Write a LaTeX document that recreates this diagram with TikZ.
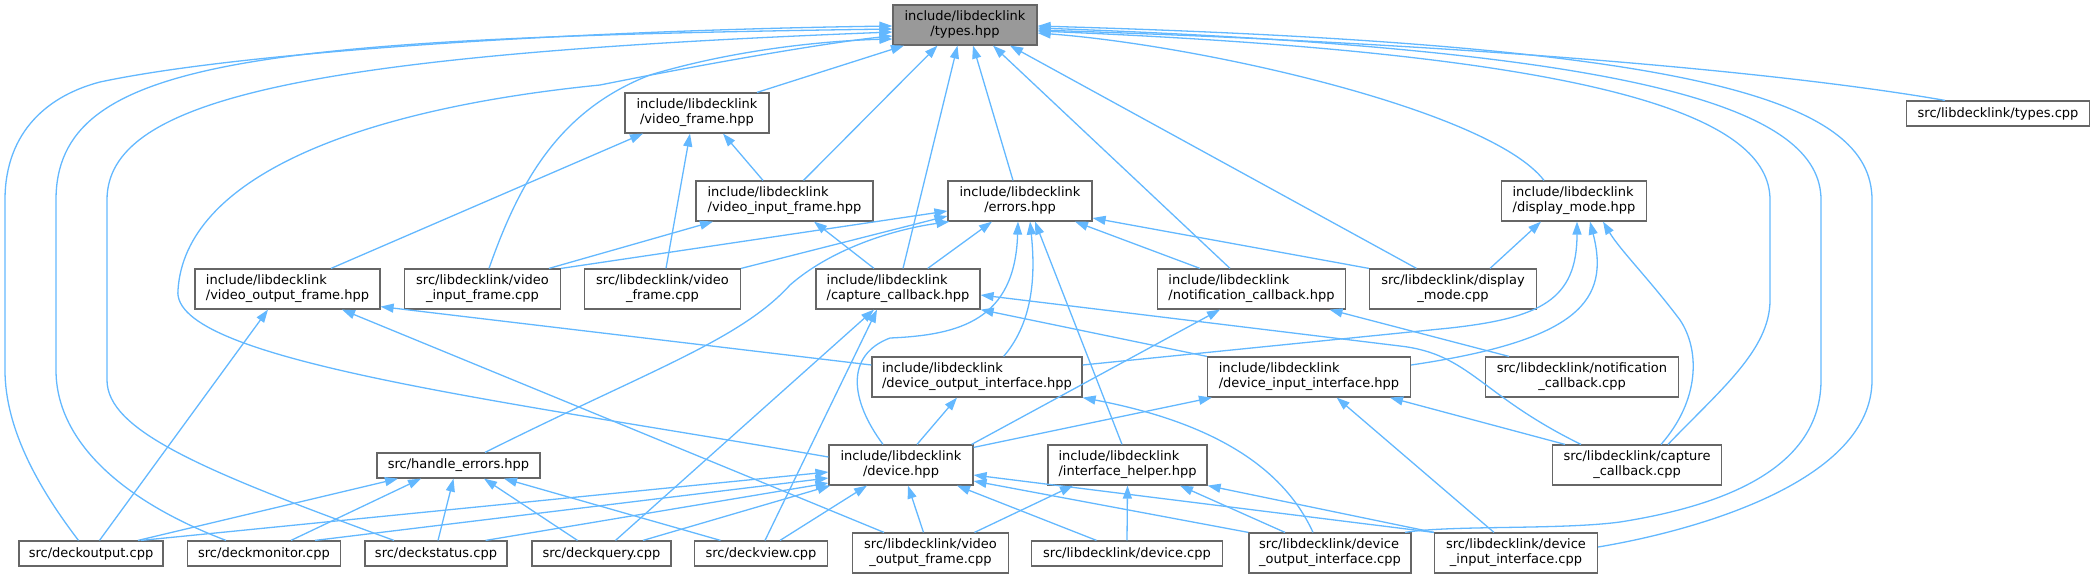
\documentclass[tikz,border=0pt]{standalone}
\usepackage{fontspec}
\setmainfont{DejaVu Sans}
\usetikzlibrary{arrows.meta}
\definecolor{edgeblue}{HTML}{63B8FF}
\definecolor{nodegray}{HTML}{666666}
\definecolor{typesgray}{HTML}{999999}
\newcommand\lab[2]{\begin{tabular}{@{}l@{}}#1\\\multicolumn{1}{@{}c@{}}{#2}\end{tabular}}
\tikzset{
  box/.style={draw=nodegray, line width=1.2pt, fill=white, inner sep=0pt, font=\fontsize{13}{15}\selectfont},
  two/.style={box, minimum height=40pt},
  one/.style={box, minimum height=25pt},
  edge/.style={draw=edgeblue, line width=1.3pt, -{Triangle[length=13pt,width=9pt]}}
}
\begin{document}
\begin{tikzpicture}[x=1pt,y=-1pt]
\useasboundingbox (0,0) rectangle (2095,579);
% nodes
\node[two,minimum width=144pt,fill=typesgray] (types) at (965,25) {\lab{include/libdecklink}{/types.hpp}};
\node[two,minimum width=144pt] (vframe) at (697,113) {\lab{include/libdecklink}{/video\_frame.hpp}};
\node[one,minimum width=183pt] (typescpp) at (1998,113.5) {src/libdecklink/types.cpp};
\node[two,minimum width=177pt] (vifh) at (784.5,201) {\lab{include/libdecklink}{/video\_input\_frame.hpp}};
\node[two,minimum width=144pt] (errors) at (1020,201) {\lab{include/libdecklink}{/errors.hpp}};
\node[two,minimum width=145pt] (dmh) at (1574,201) {\lab{include/libdecklink}{/display\_mode.hpp}};
\node[two,minimum width=185pt] (vofh) at (287.5,289) {\lab{include/libdecklink}{/video\_output\_frame.hpp}};
\node[two,minimum width=156pt] (vifc) at (482.5,289) {\lab{src/libdecklink/video}{\_input\_frame.cpp}};
\node[two,minimum width=156pt] (vfc) at (662.5,289) {\lab{src/libdecklink/video}{\_frame.cpp}};
\node[two,minimum width=164pt] (cch) at (898,289) {\lab{include/libdecklink}{/capture\_callback.hpp}};
\node[two,minimum width=188pt] (nch) at (1251.5,289) {\lab{include/libdecklink}{/notification\_callback.hpp}};
\node[two,minimum width=167pt] (dmc) at (1453,289) {\lab{src/libdecklink/display}{\_mode.cpp}};
\node[two,minimum width=210pt] (doih) at (977,377) {\lab{include/libdecklink}{/device\_output\_interface.hpp}};
\node[two,minimum width=203pt] (diih) at (1309,377) {\lab{include/libdecklink}{/device\_input\_interface.hpp}};
\node[two,minimum width=193pt] (ncc) at (1582,377) {\lab{src/libdecklink/notification}{\_callback.cpp}};
\node[one,minimum width=163pt] (he) at (458.5,465.5) {src/handle\_errors.hpp};
\node[two,minimum width=144pt] (dev) at (901,465) {\lab{include/libdecklink}{/device.hpp}};
\node[two,minimum width=159pt] (ih) at (1127.5,465) {\lab{include/libdecklink}{/interface\_helper.hpp}};
\node[two,minimum width=169pt] (capc) at (1637,465) {\lab{src/libdecklink/capture}{\_callback.cpp}};
\node[one,minimum width=144pt] (dout) at (91,553.5) {src/deckoutput.cpp};
\node[one,minimum width=153pt] (dmon) at (264,553.5) {src/deckmonitor.cpp};
\node[one,minimum width=142pt] (dstat) at (436,553.5) {src/deckstatus.cpp};
\node[one,minimum width=139pt] (dquery) at (601.5,553.5) {src/deckquery.cpp};
\node[one,minimum width=133pt] (dview) at (761,553.5) {src/deckview.cpp};
\node[two,minimum width=156pt] (vofc) at (930.5,553) {\lab{src/libdecklink/video}{\_output\_frame.cpp}};
\node[one,minimum width=191pt] (devc) at (1127,553.5) {src/libdecklink/device.cpp};
\node[two,minimum width=162pt] (doic) at (1330,553) {\lab{src/libdecklink/device}{\_output\_interface.cpp}};
\node[two,minimum width=163pt] (diic) at (1516,553) {\lab{src/libdecklink/device}{\_input\_interface.cpp}};
% edges into types
\draw[edge] ([xshift=60pt]vframe.north) -- ([xshift=-61pt]types.south);
\draw[edge] ([xshift=19pt]vifh.north) -- ([xshift=-27.5pt]types.south);
\draw[edge] ([xshift=5pt]cch.north) -- ([xshift=-7.5pt]types.south);
\draw[edge] ([xshift=-7pt]errors.north) -- ([xshift=8pt]types.south);
\draw[edge] ([xshift=-21.5pt]nch.north) -- ([xshift=28pt]types.south);
\draw[edge] ([xshift=-36.5pt]dmc.north) -- ([xshift=45pt]types.south);
\draw[edge] ([xshift=-30pt]dmh.north) .. controls (1490,110) and (1200,45) .. ([yshift=-8pt]types.east);
\draw[edge] ([xshift=-53pt]typescpp.north) .. controls (1800,75) and (1500,45) .. ([yshift=-5pt]types.east);
\draw[edge] ([xshift=31pt]capc.north) .. controls (1720,390) and (1770,350) .. (1770,300) -- (1770,200) .. controls (1770,120) and (1620,55) .. ([yshift=-6pt]types.east);
\draw[edge] ([xshift=75pt]doic.north) .. controls (1450,525) and (1560,530) .. (1620,522) .. controls (1760,500) and (1821,450) .. (1821,380) -- (1821,200) .. controls (1821,110) and (1650,50) .. ([yshift=-3pt]types.east);
\draw[edge] ([yshift=6pt]diic.east) .. controls (1700,530) and (1872,480) .. (1872,380) -- (1872,200) .. controls (1872,100) and (1700,45) .. ([yshift=-1pt]types.east);
\draw[edge] ([xshift=-12.5pt]dout.north) .. controls (40,490) and (5,430) .. (5,370) -- (5,200) .. controls (5,130) and (50,95) .. (100,82) .. controls (250,50) and (600,30) .. ([yshift=-1pt]types.west);
\draw[edge] ([xshift=-38pt]dmon.north) .. controls (120,500) and (56,440) .. (56,370) -- (56,200) .. controls (56,60) and (250,38) .. ([yshift=-4pt]types.west);
\draw[edge] ([xshift=-42pt]dstat.north) .. controls (200,470) and (107,430) .. (107,380) -- (107,200) .. controls (107,100) and (300,55) .. ([yshift=-7pt]types.west);
\draw[edge] ([yshift=8pt]dev.west) .. controls (500,400) and (170,360) .. (178,290) .. controls (185,180) and (350,110) .. (600,85) .. controls (750,55) and (850,40) .. ([yshift=-11pt]types.west);
\draw[edge] ([xshift=6.5pt]vifc.north) .. controls (520,180) and (560,110) .. (650,75) .. controls (750,45) and (850,40) .. ([yshift=-14pt]types.west);
% into video_frame.hpp
\draw[edge] ([xshift=43.5pt]vofh.north) -- ([xshift=-54pt]vframe.south);
\draw[edge] ([xshift=3.5pt]vfc.north) -- ([xshift=-7pt]vframe.south);
\draw[edge] ([xshift=-21.5pt]vifh.north) -- ([xshift=26pt]vframe.south);
% into video_input_frame.hpp
\draw[edge] ([xshift=66.5pt]vifc.north) -- ([xshift=-71.5pt]vifh.south);
\draw[edge] ([xshift=-24pt]cch.north) -- ([xshift=29.5pt]vifh.south);
% into errors.hpp
\draw[edge] (vifc.north east) -- ([yshift=-10pt]errors.west);
\draw[edge] (vfc.north east) -- ([yshift=-15pt]errors.west);
\draw[edge] ([xshift=26.5pt]he.north) .. controls (650,370) and (740,340) .. (790,285) .. controls (830,250) and (890,230) .. ([xshift=2pt]errors.south west);
\draw[edge] ([xshift=29.7pt]cch.north) -- ([xshift=-28pt]errors.south);
\draw[edge] ([xshift=-18pt]dev.north) .. controls (850,400) and (845,355) .. (890,338) .. controls (960,335) and (1015,320) .. ([xshift=-2pt]errors.south);
\draw[edge] ([xshift=26.6pt]doih.north) .. controls (1035,320) and (1035,270) .. ([xshift=10pt]errors.south);
\draw[edge] ([xshift=-5.5pt]ih.north) -- ([xshift=15pt]errors.south);
\draw[edge] ([xshift=-51.5pt]nch.north) -- ([xshift=55pt]errors.south);
\draw[edge] (dmc.north west) -- ([yshift=-17pt]errors.east);
% into capture_callback.hpp
\draw[edge] ([xshift=14pt]dquery.north) -- ([xshift=-24pt]cch.south);
\draw[edge] ([xshift=4pt]dview.north) -- ([xshift=-21pt]cch.south);
\draw[edge] (diih.north west) -- (cch.south east);
\draw[edge] ([xshift=-56pt]capc.north) .. controls (1480,395) and (1470,354) .. (1400,346) -- ([yshift=-6pt]cch.east);
% into display_mode.hpp
\draw[edge] ([xshift=37pt]dmc.north) -- ([xshift=-33pt]dmh.south);
\draw[edge] ([yshift=12pt]doih.east) -- (1450,328) .. controls (1540,318) and (1577,300) .. ([xshift=3pt]dmh.south);
\draw[edge] ([yshift=12pt]diih.east) .. controls (1580,340) and (1610,300) .. ([xshift=16pt]dmh.south);
\draw[edge] ([xshift=24pt]capc.north) .. controls (1700,400) and (1700,350) .. (1680,320) .. controls (1650,280) and (1620,250) .. ([xshift=29pt]dmh.south);
% into notification_callback.hpp
\draw[edge] ([xshift=-2pt]dev.north east) -- ([xshift=-31.5pt]nch.south);
\draw[edge] ([xshift=-73pt]ncc.north) -- ([xshift=78pt]nch.south);
% into video_output_frame.hpp
\draw[edge] ([xshift=8.5pt]dout.north) -- ([xshift=-19.5pt]vofh.south);
\draw[edge] ([xshift=-46.5pt]vofc.north) -- ([xshift=54.5pt]vofh.south);
\draw[edge] ([yshift=12pt]doih.west) -- ([yshift=3pt]vofh.south east);
% into device_output_interface.hpp
\draw[edge] ([xshift=16pt]dev.north) -- ([xshift=-20pt]doih.south);
\draw[edge] ([xshift=-17pt]doic.north) .. controls (1280,460) and (1200,420) .. (doih.south east);
% into device_input_interface.hpp
\draw[edge] ([yshift=-3pt]dev.north east) -- ([xshift=5pt]diih.south west);
\draw[edge] ([xshift=-22pt]diic.north) -- ([xshift=27.7pt]diih.south);
\draw[edge] ([xshift=-72pt]capc.north) -- ([xshift=81pt]diih.south);
% into handle_errors.hpp
\draw[edge] ([xshift=47pt]dout.north) -- ([xshift=-60.5pt]he.south);
\draw[edge] ([xshift=27pt]dmon.north) -- ([xshift=-37.5pt]he.south);
\draw[edge] ([xshift=2pt]dstat.north) -- ([xshift=-5pt]he.south);
\draw[edge] ([xshift=-24pt]dquery.north) -- ([xshift=25.5pt]he.south);
\draw[edge] ([xshift=-40.5pt]dview.north) -- ([xshift=45.5pt]he.south);
% into device.hpp
\draw[edge] ([xshift=50pt]dout.north) -- ([yshift=-7pt]dev.west);
\draw[edge] ([xshift=51pt]dmon.north) -- ([yshift=-13pt]dev.west);
\draw[edge] ([xshift=49.6pt]dstat.north) -- ([yshift=-18pt]dev.west);
\draw[edge] ([xshift=41.5pt]dquery.north) -- ([xshift=2pt]dev.south west);
\draw[edge] ([xshift=19pt]dview.north) -- ([xshift=-34pt]dev.south);
\draw[edge] ([xshift=-7pt]vofc.north) -- ([xshift=7pt]dev.south);
\draw[edge] ([xshift=-30.5pt]devc.north) -- ([xshift=56pt]dev.south);
\draw[edge] (doic.north west) -- ([yshift=-16pt]dev.east);
\draw[edge] (diic.north west) -- ([yshift=-10pt]dev.east);
% into interface_helper.hpp
\draw[edge] ([xshift=44pt]vofc.north) -- ([xshift=-54.5pt]ih.south);
\draw[edge] (devc.north) -- (ih.south);
\draw[edge] ([xshift=-45pt]doic.north) -- ([xshift=52.5pt]ih.south);
\draw[edge] (diic.north west) -- (ih.south east);
\end{tikzpicture}
\end{document}
